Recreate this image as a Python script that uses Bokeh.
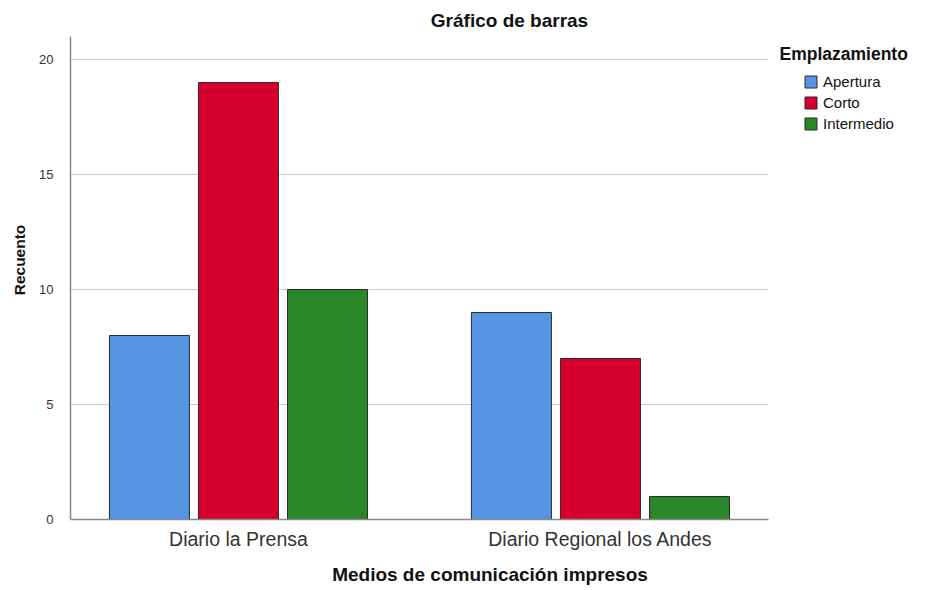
from bokeh.plotting import figure
from bokeh.models import ColumnDataSource, FixedTicker, Legend, LegendItem, Label, Range1d
from bokeh.embed import file_html
from bokeh.resources import INLINE

categories = ["Diario la Prensa", "Diario Regional los Andes"]
series_names = ["Apertura", "Corto", "Intermedio"]
apertura = [8, 9]
corto = [19, 7]
intermedio = [10, 1]
series_values = [apertura, corto, intermedio]
colors = ["#5595E4", "#D6002E", "#298629"]
y_ticks = [0, 5, 10, 15, 20]
y_max = 21

# plot area (data extent) and frame extent
x_lo, x_hi = -0.464, 1.464
p = figure(frame_width=839, frame_height=519, output_backend="svg", toolbar_location=None,
           x_range=Range1d(x_lo, 1.8537), y_range=Range1d(0, 22.565), title=None,
           min_border_left=70, min_border_right=0, min_border_top=0, min_border_bottom=0)
p.outline_line_color = None
p.xgrid.grid_line_color = None
p.ygrid.grid_line_color = None

# horizontal grid lines limited to the plot area
grid_y = [t for t in y_ticks if t > 0]
p.segment(x0=[x_lo] * len(grid_y), x1=[x_hi] * len(grid_y), y0=grid_y, y1=grid_y,
          line_color="#CCCCCC", line_width=1)

offsets = [-0.246, 0.0, 0.246]
bw = 0.221
items = []
for name, vals, col, off in zip(series_names, series_values, colors, offsets):
    xs = [i + off for i in range(len(categories))]
    src = ColumnDataSource(dict(x=xs, top=vals))
    r = p.vbar(x="x", top="top", bottom=0, width=bw, source=src,
               fill_color=col, line_color="#2a2a2a", line_width=1)
    items.append(LegendItem(label=name, renderers=[r]))

p.yaxis.ticker = FixedTicker(ticks=y_ticks)
p.xaxis.ticker = FixedTicker(ticks=list(range(len(categories))))
p.xaxis.major_label_overrides = {i: c for i, c in enumerate(categories)}
p.xaxis.bounds = (x_lo, x_hi)
p.yaxis.bounds = (0, y_max)

for ax in (p.xaxis[0], p.yaxis[0]):
    ax.axis_line_color = "#888888"
    ax.axis_line_width = 1.5
    ax.major_tick_line_color = None
    ax.minor_tick_line_color = None
    ax.axis_label_text_font = "Liberation Sans"
    ax.axis_label_text_font_style = "bold"
    ax.axis_label_text_color = "#111111"
    ax.major_label_text_font = "Liberation Sans"

p.xaxis.axis_label = "Medios de comunicación impresos"
p.yaxis.axis_label = "Recuento"
p.xaxis.axis_label_text_font_size = "19px"
p.yaxis.axis_label_text_font_size = "15.5px"
p.xaxis.major_label_text_font_size = "19.5px"
p.xaxis.major_label_text_color = "#333333"
p.xaxis.major_label_standoff = 2
p.xaxis.axis_label_standoff = 11
p.yaxis.major_label_text_font_size = "13px"
p.yaxis.major_label_text_color = "#333333"
p.yaxis.major_label_standoff = 11
p.yaxis.axis_label_standoff = 8

legend = Legend(items=items, location=(733, 387), orientation="vertical",
                padding=0, margin=0, spacing=4, glyph_width=15, glyph_height=15,
                label_height=15, label_standoff=5, label_text_font="Liberation Sans",
                label_text_font_size="15px", label_text_color="#111111",
                border_line_color=None, background_fill_alpha=0)
p.add_layout(legend, "center")

p.add_layout(Label(x=709, y=466, x_units="screen", y_units="screen", text="Emplazamiento",
                   text_font="Liberation Sans", text_font_style="bold", text_font_size="17.5px",
                   text_baseline="middle", text_align="left", text_color="#111111"))
p.add_layout(Label(x=439, y=499, x_units="screen", y_units="screen", text="Gráfico de barras",
                   text_font="Liberation Sans", text_font_style="bold", text_font_size="19px",
                   text_baseline="middle", text_align="center", text_color="#111111"))

open("out.html", "w").write(file_html(p, INLINE))
